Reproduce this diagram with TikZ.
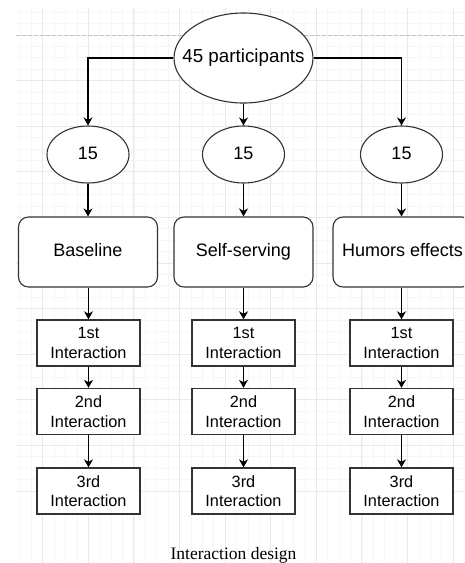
\documentclass[tikz,border=0pt]{standalone}
\usepackage{fontspec}
\setmainfont{Liberation Sans}
\newfontfamily\capfont{Liberation Serif}
\usetikzlibrary{shapes.geometric,arrows.meta}
\definecolor{gridminor}{HTML}{F6F6F6}
\definecolor{gridmajor}{HTML}{E9E9E9}
\definecolor{pagedash}{HTML}{C4C4C4}
\definecolor{stroke}{HTML}{333333}
\tikzset{
  ell/.style={ellipse, draw=stroke, line width=1.1pt, inner sep=0pt, fill=white},
  lbl/.style={inner sep=0pt, text height=13pt, text depth=4pt},
  rbox/.style={draw=stroke, line width=1.1pt, rounded corners=10pt, minimum width=139pt, minimum height=70pt, inner sep=0pt, fill=white, text height=13pt, text depth=4pt, font=\fontsize{18}{21}\selectfont},
  ibox/.style={draw=stroke, line width=1.4pt, minimum width=103pt, minimum height=46pt, inner sep=0pt, fill=white, align=center, font=\fontsize{16.3}{19.5}\selectfont},
  conn/.style={draw=black, line width=1.2pt, -{Stealth[length=8pt,width=9pt,inset=2.5pt]}},
}
\begin{document}
\begin{tikzpicture}[x=1pt,y=-1pt]
\useasboundingbox (0,0) rectangle (464,563);
\clip (0,0) rectangle (464,563);
\fill[white] (0,0) rectangle (464,563);
% canvas grid
\begin{scope}
  \clip (16,8) rectangle (464,563);
  \foreach \i in {-3,...,40} {
    \pgfmathsetmacro\gx{42.7+11.4*\i}
    \pgfmathsetmacro\gy{35+11.4*\i}
    \draw[gridminor, line width=0.8pt] (\gx,0) -- (\gx,563);
    \draw[gridminor, line width=0.8pt] (0,\gy) -- (464,\gy);
  }
  \foreach \i in {-1,...,10} {
    \pgfmathsetmacro\gx{42.7+45.6*\i}
    \pgfmathsetmacro\gy{35+45.6*\i}
    \draw[gridmajor, line width=0.9pt] (\gx,0) -- (\gx,563);
    \draw[gridmajor, line width=0.9pt] (0,\gy) -- (464,\gy);
  }
  \draw[pagedash, line width=1pt, dash pattern=on 4pt off 2pt] (16,35) -- (464,35);
\end{scope}

% top node
\node[ell, minimum width=139pt, minimum height=90pt] (all) at (243.5,58) {};
\node[lbl, font=\fontsize{18.8}{22}\selectfont] (allt) at (all.center) {45 participants};

% group nodes
\foreach \n/\x in {a/88, b/243.5, c/401.5} {
  \node[ell, minimum width=82pt, minimum height=57pt] (g\n) at (\x,154.5) {};
  \node[lbl, font=\fontsize{18}{21}\selectfont] (g\n t) at (g\n.center) {15};
}

% condition boxes
\node[rbox] (ca) at (88,252) {Baseline};
\node[rbox] (cb) at (243.5,252) {Self-serving};
\node[rbox] (cc) at (402.5,252) {Humors effects};

% interaction boxes
\foreach \n/\x in {a/88.5, b/243.5, c/401.5} {
  \node[ibox] (i1\n) at (\x,343) {1st\\Interaction};
  \node[ibox] (i2\n) at (\x,411.5) {2nd\\Interaction};
  \node[ibox] (i3\n) at (\x,491) {3rd\\Interaction};
}

% connectors
\draw[conn] (all.west) -| (ga.north);
\draw[conn] (all.east) -| (gc.north);
\draw[conn] (all.south) -- (gb.north);
\foreach \n in {a,b,c} {
  \draw[conn] (g\n.south) -- (g\n.south |- c\n.north);
  \draw[conn] (c\n.south -| i1\n.north) -- (i1\n.north);
  \draw[conn] (i1\n.south) -- (i2\n.north);
  \draw[conn] (i2\n.south) -- (i3\n.north);
}

% caption
\node[anchor=base, font=\capfont\fontsize{17.5}{20}\selectfont, inner sep=0pt] (cap) at (233.5,559) {Interaction design};
\end{tikzpicture}
\end{document}
